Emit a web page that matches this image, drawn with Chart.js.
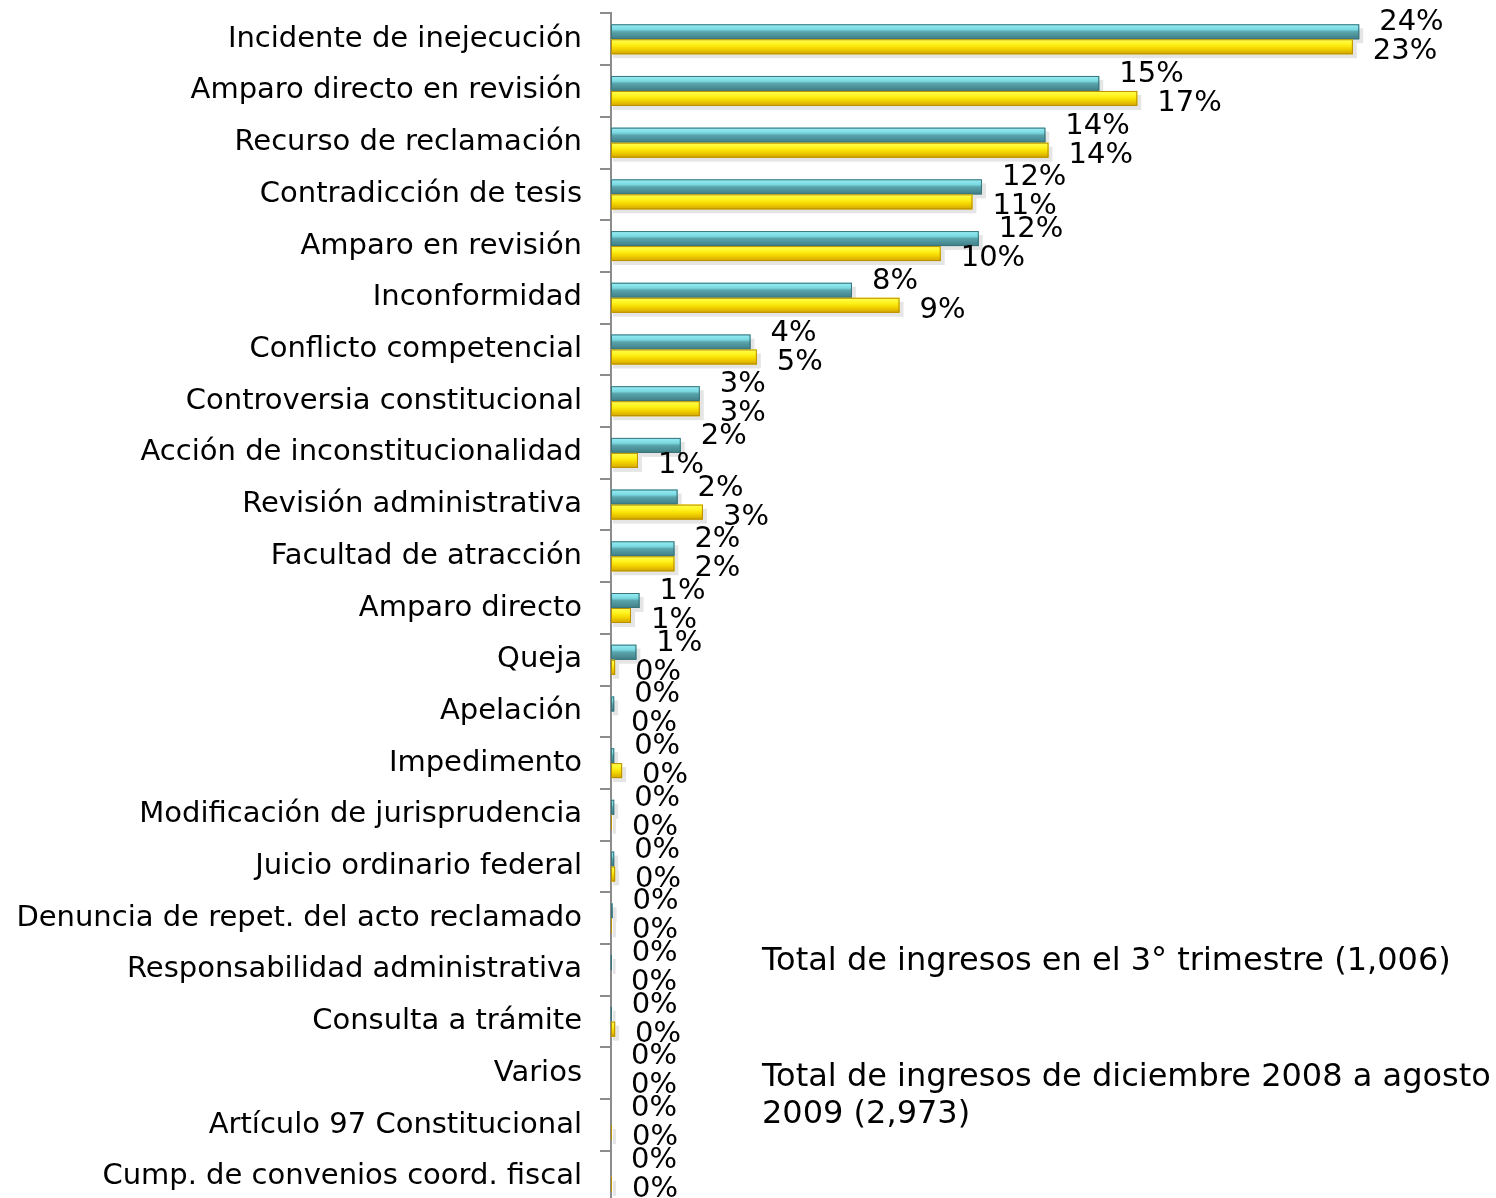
<!DOCTYPE html>
<html>
<head>
<meta charset="utf-8">
<script src="https://cdn.jsdelivr.net/npm/chart.js@4.4.1/dist/chart.umd.min.js"></script>
<style>
  html, body { margin: 0; padding: 0; background: #fff; overflow: hidden; }
  #wrap { position: relative; top: -22px; width: 1496px; height: 1260px; }
</style>
</head>
<body>
<div id="wrap"><canvas id="chart"></canvas></div>
<script>
// categories, top to bottom
const categories = [
  'Incidente de inejecución',
  'Amparo directo en revisión',
  'Recurso de reclamación',
  'Contradicción de tesis',
  'Amparo en revisión',
  'Inconformidad',
  'Conflicto competencial',
  'Controversia constitucional',
  'Acción de inconstitucionalidad',
  'Revisión administrativa',
  'Facultad de atracción',
  'Amparo directo',
  'Queja',
  'Apelación',
  'Impedimento',
  'Modificación de jurisprudencia',
  'Juicio ordinario federal',
  'Denuncia de repet. del acto reclamado',
  'Responsabilidad administrativa',
  'Consulta a trámite',
  'Varios',
  'Artículo 97 Constitucional',
  'Cump. de convenios coord. fiscal'
];

// percent of total
const trimestre = [23.6, 15.4, 13.7, 11.7, 11.6, 7.6, 4.4, 2.8, 2.2, 2.1, 2.0, 0.9, 0.8,
  0.1, 0.1, 0.1, 0.1, 0.05, 0.02, 0.02, 0, 0, 0];
const acumulado = [23.4, 16.6, 13.8, 11.4, 10.4, 9.1, 4.6, 2.8, 0.85, 2.9, 2.0, 0.63, 0.13,
  0, 0.35, 0.03, 0.13, 0.03, 0, 0.13, 0, 0.03, 0.03];

const seriesLabels = [
  'Total de ingresos en el 3° trimestre (1,006)',
  ['Total de ingresos de diciembre 2008 a agosto', '2009 (2,973)']
];

const FONT = '"DejaVu Sans", Verdana, sans-serif';

// 3D-ish shading over each bar
const shading = {
  id: 'shading',
  afterDatasetsDraw(chart) {
    const ctx = chart.ctx;
    const tones = [
      [['#9af0f7', 0], ['#7ad8e0', 0.35], ['#5aa4ac', 0.5], ['#3f7d85', 1]],
      [['#ffff55', 0], ['#fff21c', 0.35], ['#f5d800', 0.6], ['#d2a400', 1]]
    ];
    const edges = ['#3a747b', '#b88f00'];
    chart.data.datasets.forEach((ds, i) => {
      const meta = chart.getDatasetMeta(i);
      meta.data.forEach(bar => {
        const p = bar.getProps(['x', 'y', 'base', 'height'], true);
        const w = p.x - p.base;
        if (w <= 0.5) return;
        const top = p.y - p.height / 2;
        const g = ctx.createLinearGradient(0, top, 0, top + p.height);
        tones[i].forEach(([c, s]) => g.addColorStop(s, c));
        ctx.save();
        ctx.fillStyle = 'rgba(0,0,0,0.10)';
        ctx.fillRect(p.base + 2, top + 4, w + 2, p.height);
        ctx.fillStyle = g;
        ctx.fillRect(p.base, top, w, p.height);
        ctx.strokeStyle = edges[i];
        ctx.lineWidth = 1;
        ctx.strokeRect(p.base + 0.5, top + 0.5, w - 1, p.height - 1);
        ctx.restore();
      });
    });
  }
};

// percentage labels next to the bar ends
const valueLabels = {
  id: 'valueLabels',
  afterDatasetsDraw(chart) {
    const ctx = chart.ctx;
    ctx.save();
    ctx.font = '29px ' + FONT;
    ctx.fillStyle = '#000';
    ctx.textBaseline = 'middle';
    chart.data.datasets.forEach((ds, i) => {
      const meta = chart.getDatasetMeta(i);
      meta.data.forEach((bar, j) => {
        const txt = Math.round(ds.data[j]) + '%';
        ctx.fillText(txt, bar.x + 20, bar.y + (i === 0 ? -9 : 5));
      });
    });
    ctx.restore();
  }
};

// series names drawn as plain text in the lower right
const seriesText = {
  id: 'seriesText',
  afterDraw(chart) {
    const ctx = chart.ctx;
    const x = chart.chartArea.left + 151;
    const shift = chart.chartArea.top - 12;
    ctx.save();
    ctx.font = '32px ' + FONT;
    ctx.fillStyle = '#000';
    ctx.textBaseline = 'middle';
    ctx.fillText(seriesLabels[0], x, 960 + shift);
    seriesLabels[1].forEach((line, k) => ctx.fillText(line, x, 1076 + shift + k * 37));
    ctx.restore();
  }
};

new Chart(document.getElementById('chart'), {
  type: 'bar',
  data: {
    labels: categories,
    datasets: [
      { label: seriesLabels[0], data: trimestre, backgroundColor: '#4f959d' },
      { label: seriesLabels[1].join(' '), data: acumulado, backgroundColor: '#ffe81a' }
    ]
  },
  options: {
    indexAxis: 'y',
    responsive: true,
    maintainAspectRatio: false,
    animation: false,
    layout: { padding: { top: 12, right: 29, bottom: 9, left: 0 } },
    datasets: { bar: { categoryPercentage: 0.58, barPercentage: 1.0 } },
    plugins: { legend: { display: false }, tooltip: { enabled: false } },
    scales: {
      x: { display: false, min: 0, max: 27 },
      y: {
        afterFit(scale) { scale.width = 611; },
        border: { display: true, color: '#8c8c8c', width: 2 },
        grid: { offset: true, drawOnChartArea: false, tickLength: 11, color: '#8c8c8c', lineWidth: 2 },
        ticks: { color: '#000', padding: 18, font: { family: FONT, size: 29 } }
      }
    }
  },
  plugins: [shading, valueLabels, seriesText]
});
</script>
</body>
</html>
